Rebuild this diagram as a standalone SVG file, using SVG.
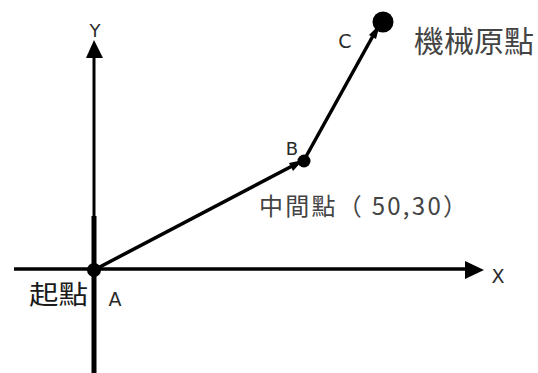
<svg xmlns="http://www.w3.org/2000/svg" width="538" height="373" viewBox="0 0 538 373">
<defs>
<style>
.lbl{font-family:"DejaVu Sans","Liberation Sans",sans-serif;fill:#2a2a2a;}
.cjk{font-family:"Noto Sans CJK TC","Noto Sans CJK SC",sans-serif;fill:#444;}
.axis{stroke:#000;fill:none;}
.vec{stroke:#000;stroke-width:3.5;fill:none;}
</style>
</defs>
<rect width="538" height="373" fill="#fff"/>
<g id="connectors">
<line class="axis" x1="94" y1="56" x2="94" y2="218" stroke-width="3"/>
<line class="axis" x1="94" y1="216" x2="94" y2="373" stroke-width="5"/>
<polygon points="94,40 86,58 103,58" fill="#000"/>
<line class="axis" x1="14" y1="269" x2="468" y2="269" stroke-width="3.5"/>
<polygon points="484,270 465,261 465,279" fill="#000"/>
<line class="vec" x1="94" y1="270" x2="296" y2="164"/>
<polygon points="303,160 289,163 293,171" fill="#000"/>
<line class="vec" stroke-width="3" x1="303" y1="162" x2="374" y2="34"/>
<polygon points="380,24 369,35 376,39" fill="#000"/>
</g>
<g id="axis-y">
<text class="lbl" x="95" y="37" font-size="18" text-anchor="middle">Y</text>
</g>
<g id="axis-x">
<text class="lbl" x="498" y="283" font-size="19" text-anchor="middle">X</text>
</g>
<g id="node-a">
<circle cx="94" cy="270" r="7" fill="#000"/>
<text class="cjk" x="29" y="304" font-size="26" textLength="59" lengthAdjust="spacingAndGlyphs" style="fill:#1a1a1a">起點</text>
<text class="lbl" x="115" y="306" font-size="19" text-anchor="middle">A</text>
</g>
<g id="node-b">
<circle cx="304" cy="161" r="6.5" fill="#000"/>
<text class="lbl" x="292" y="155" font-size="18" text-anchor="middle">B</text>
<text class="cjk" x="259" y="215" font-size="24" textLength="208" lengthAdjust="spacing">中間點（ 50,30）</text>
</g>
<g id="node-c">
<circle cx="383" cy="22" r="10.5" fill="#000"/>
<text class="lbl" x="345" y="48" font-size="19" text-anchor="middle">C</text>
<text class="cjk" x="414" y="52" font-size="30">機械原點</text>
</g>
</svg>
